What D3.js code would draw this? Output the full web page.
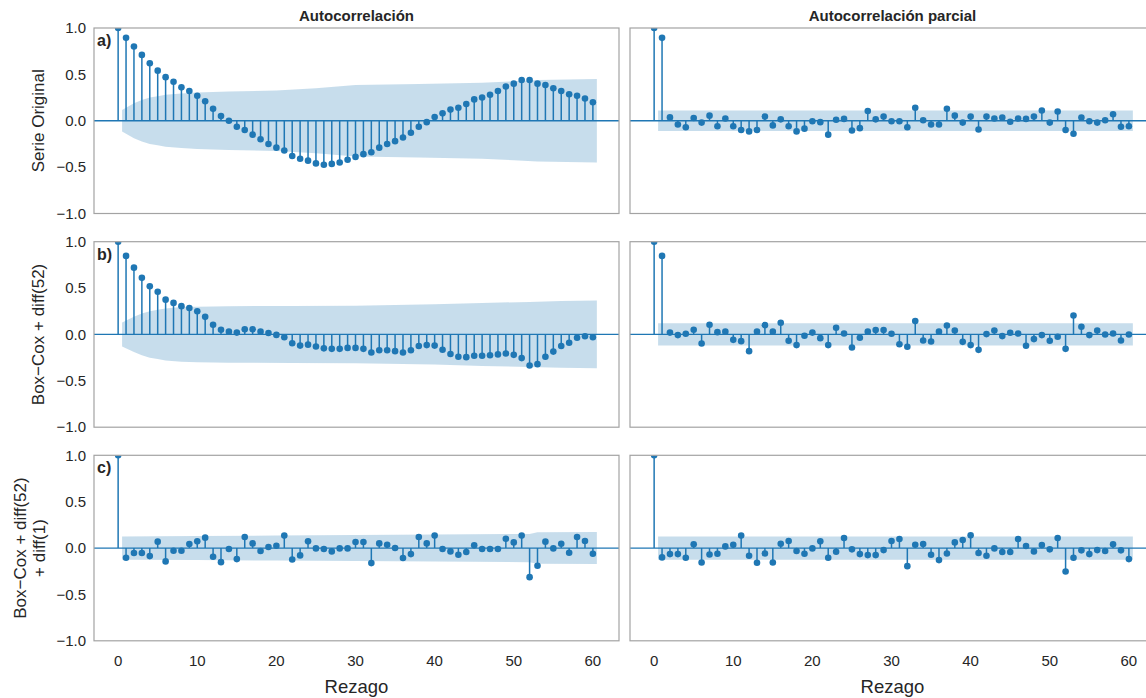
<!DOCTYPE html>
<html>
<head>
<meta charset="utf-8">
<script src="https://cdn.jsdelivr.net/npm/d3@7"></script>
<style>
  body { margin: 0; background: #ffffff; }
  text { font-family: "Liberation Sans", Arial, sans-serif; }
</style>
</head>
<body>
<div id="chart"></div>
<script>
// rezagos y etiquetas
const lags = d3.range(0, 61)
const xTicks = [0, 10, 20, 30, 40, 50, 60]
const yTicks = [-1, -0.5, 0, 0.5, 1]
const colTitles = ['Autocorrelación', 'Autocorrelación parcial']
const rowLabels = [['Serie Original'], ['Box−Cox + diff(52)'], ['Box−Cox + diff(52)', '+ diff(1)']]
const panelTags = ['a)', 'b)', 'c)']
const xLabel = 'Rezago'

// a) serie original
const acfOriginal = [1.0, 0.894, 0.80, 0.71, 0.62, 0.54, 0.47, 0.42, 0.36, 0.32, 0.27, 0.21, 0.13, 0.05, 0.0,
  -0.065, -0.10, -0.15, -0.20, -0.25, -0.29, -0.32, -0.38, -0.41, -0.43, -0.46, -0.475, -0.465, -0.45, -0.42, -0.39,
  -0.36, -0.34, -0.29, -0.25, -0.22, -0.18, -0.13, -0.065, -0.015, 0.04, 0.08, 0.12, 0.14, 0.18, 0.23,
  0.25, 0.28, 0.32, 0.37, 0.40, 0.44, 0.44, 0.40, 0.385, 0.35, 0.32, 0.285, 0.27, 0.24, 0.20]
const pacfOriginal = [1.0, 0.894, 0.036, -0.04, -0.07, 0.03, -0.02, 0.055, -0.06, 0.025,
  -0.06, -0.10, -0.115, -0.10, 0.045, -0.05, 0.015, -0.06, -0.115, -0.085,
  -0.005, -0.015, -0.15, 0.01, 0.02, -0.105, -0.08, 0.105, 0.015, 0.045,
  -0.005, -0.005, -0.07, 0.14, 0.005, -0.04, -0.04, 0.13, 0.055, -0.02,
  0.045, -0.095, 0.045, 0.025, 0.035, -0.01, 0.025, 0.02, 0.045, 0.11,
  -0.02, 0.10, -0.10, -0.14, 0.035, -0.005, -0.02, 0.005, 0.07, -0.065, -0.06]

// b) Box-Cox + diff(52)
const acfBoxCox = [1.0, 0.847, 0.72, 0.61, 0.52, 0.46, 0.375, 0.34, 0.305, 0.285,
  0.25, 0.19, 0.105, 0.05, 0.03, 0.02, 0.055, 0.055, 0.03, 0.015,
  -0.005, -0.03, -0.095, -0.12, -0.11, -0.13, -0.15, -0.155, -0.155, -0.145,
  -0.145, -0.155, -0.195, -0.17, -0.17, -0.18, -0.195, -0.17, -0.125, -0.115,
  -0.12, -0.165, -0.21, -0.24, -0.245, -0.23, -0.23, -0.225, -0.215, -0.205,
  -0.22, -0.255, -0.335, -0.32, -0.24, -0.185, -0.125, -0.09, -0.035, -0.02, -0.03]
const pacfBoxCox = [1.0, 0.847, 0.02, -0.007, 0.007, 0.05, -0.097, 0.105, 0.025, 0.03,
  -0.058, -0.072, -0.18, 0.03, 0.10, 0.03, 0.126, -0.068, -0.115, -0.014,
  0.02, -0.04, -0.115, 0.072, 0.01, -0.14, -0.036, 0.03, 0.047, 0.047,
  0.007, -0.105, -0.133, 0.144, -0.065, -0.076, 0.03, 0.097, 0.043, -0.08,
  -0.115, -0.166, 0.004, 0.043, -0.018, 0.018, 0.011, -0.122, -0.05, -0.007,
  -0.068, -0.025, -0.155, 0.205, 0.083, -0.007, 0.043, 0.0, 0.011, -0.065, 0.0]

// c) Box-Cox + diff(52) + diff(1)
const acfDiff = [1.0, -0.105, -0.054, -0.054, -0.087, 0.069, -0.144, -0.029, -0.029, 0.043,
  0.072, 0.112, -0.094, -0.152, -0.011, -0.119, 0.119, 0.05, -0.032, 0.011,
  0.025, 0.134, -0.123, -0.079, 0.072, -0.004, -0.011, -0.036, -0.004, -0.004,
  0.065, 0.065, -0.162, 0.05, 0.036, 0.0, -0.108, -0.065, 0.119, 0.05,
  0.134, -0.011, -0.036, -0.072, -0.043, 0.029, -0.011, -0.011, -0.011, 0.101,
  0.061, 0.134, -0.314, -0.191, 0.069, -0.004, 0.047, -0.05, 0.119, 0.076, -0.061]
const pacfDiff = [1.0, -0.101, -0.065, -0.065, -0.105, 0.04, -0.155, -0.069, -0.061, 0.018,
  0.036, 0.134, -0.083, -0.159, -0.058, -0.155, 0.047, 0.076, -0.032, -0.061,
  -0.004, 0.072, -0.105, -0.04, 0.108, -0.014, -0.065, -0.076, -0.076, -0.022,
  0.076, 0.097, -0.195, 0.036, 0.043, -0.072, -0.13, -0.058, 0.061, 0.087,
  0.137, -0.054, -0.083, -0.004, -0.043, -0.043, 0.097, 0.022, -0.036, 0.032,
  -0.014, 0.108, -0.253, -0.105, -0.025, -0.065, -0.022, -0.032, 0.04, -0.025, -0.119]

// bandas de confianza: [rezago, semiancho]
const bandAcfOriginal = [[0.5, 0.115], [2, 0.19], [3, 0.225], [4, 0.25], [5, 0.265], [6, 0.28], [8, 0.295],
  [10, 0.305], [14, 0.315], [20, 0.325], [25, 0.35], [30, 0.385], [38, 0.395], [46, 0.41], [50, 0.425],
  [53, 0.44], [60.5, 0.45]]
const bandAcfBoxCox = [[0.5, 0.13], [2, 0.19], [3, 0.225], [4, 0.25], [5, 0.265], [6, 0.28], [8, 0.295],
  [10, 0.30], [14, 0.305], [22, 0.307], [30, 0.31], [40, 0.325], [46, 0.34], [52, 0.35], [56, 0.36], [60.5, 0.365]]
const bandAcfDiff = [[0.5, 0.125], [10, 0.13], [20, 0.135], [30, 0.14], [40, 0.145], [52, 0.152],
  [53, 0.17], [60.5, 0.172]]
const bandPacfOriginal = [[0.5, 0.11], [60.5, 0.11]]
const bandPacfBoxCox = [[0.5, 0.12], [60.5, 0.12]]
const bandPacfDiff = [[0.5, 0.125], [60.5, 0.125]]

const panels = [
  { row: 0, col: 0, values: acfOriginal, band: bandAcfOriginal },
  { row: 0, col: 1, values: pacfOriginal, band: bandPacfOriginal },
  { row: 1, col: 0, values: acfBoxCox, band: bandAcfBoxCox },
  { row: 1, col: 1, values: pacfBoxCox, band: bandPacfBoxCox },
  { row: 2, col: 0, values: acfDiff, band: bandAcfDiff },
  { row: 2, col: 1, values: pacfDiff, band: bandPacfDiff }
]

const width = 1146
const height = 698
const color = '#1f77b4'
const panelW = 525
const panelH = 185.5
const colX = [94, 630]
const rowY = [28, 241.7, 455.3]

const x = d3.scaleLinear().domain([-3.05, 63.3]).range([0, panelW])
const y = d3.scaleLinear().domain([-1, 1]).range([panelH, 0])
const fmt = d3.format('.1f')

const svg = d3.select('#chart')
  .append('svg')
  .attr('width', width)
  .attr('height', height)
  .attr('viewBox', [0, 0, width, height])

const area = d3.area()
  .x(d => x(d[0]))
  .y0(d => y(-d[1]))
  .y1(d => y(d[1]))

panels.forEach((p, i) => {
  const g = svg.append('g')
    .attr('transform', `translate(${colX[p.col]},${rowY[p.row]})`)

  g.append('clipPath')
    .attr('id', 'clip' + i)
    .append('rect')
    .attr('width', panelW)
    .attr('height', panelH)

  const inner = g.append('g').attr('clip-path', `url(#clip${i})`)

  // banda de confianza
  inner.append('path')
    .datum(p.band)
    .attr('d', area)
    .attr('fill', color)
    .attr('fill-opacity', 0.25)

  // línea en cero
  inner.append('line')
    .attr('x1', 0)
    .attr('x2', panelW)
    .attr('y1', y(0))
    .attr('y2', y(0))
    .attr('stroke', color)
    .attr('stroke-width', 1.3)

  // tallos
  inner.selectAll('line.stem')
    .data(lags)
    .enter()
    .append('line')
    .attr('class', 'stem')
    .attr('x1', d => x(d))
    .attr('x2', d => x(d))
    .attr('y1', y(0))
    .attr('y2', d => y(p.values[d]))
    .attr('stroke', color)
    .attr('stroke-width', 1.5)

  inner.selectAll('circle')
    .data(lags)
    .enter()
    .append('circle')
    .attr('cx', d => x(d))
    .attr('cy', d => y(p.values[d]))
    .attr('r', 3.3)
    .attr('fill', color)

  // marco
  g.append('rect')
    .attr('width', panelW)
    .attr('height', panelH)
    .attr('fill', 'none')
    .attr('stroke', '#a3a3a3')
    .attr('stroke-width', 1.2)

  // eje y solo en la columna izquierda
  if (p.col === 0) {
    g.selectAll('text.ytick')
      .data(yTicks)
      .enter()
      .append('text')
      .attr('class', 'ytick')
      .attr('x', -8)
      .attr('y', d => y(d))
      .attr('dy', '0.35em')
      .attr('text-anchor', 'end')
      .attr('fill', '#262626')
      .style('font-size', '15px')
      .text(d => fmt(d))

    g.append('text')
      .attr('x', 3)
      .attr('y', 18)
      .attr('fill', '#262626')
      .style('font-size', '16px')
      .style('font-weight', 'bold')
      .text(panelTags[p.row])

    const lines = rowLabels[p.row]
    lines.forEach((t, k) => {
      const bx = lines.length === 1 ? -50 : -68 + k * 19
      g.append('text')
        .attr('transform', `translate(${bx},${panelH / 2}) rotate(-90)`)
        .attr('text-anchor', 'middle')
        .attr('fill', '#262626')
        .style('font-size', '17px')
        .text(t)
    })
  }

  // títulos de columna
  if (p.row === 0) {
    g.append('text')
      .attr('x', panelW / 2)
      .attr('y', -7)
      .attr('text-anchor', 'middle')
      .attr('fill', '#262626')
      .style('font-size', '15px')
      .style('font-weight', 'bold')
      .text(colTitles[p.col])
  }

  // eje x solo en la última fila
  if (p.row === 2) {
    g.selectAll('text.xtick')
      .data(xTicks)
      .enter()
      .append('text')
      .attr('class', 'xtick')
      .attr('x', d => x(d))
      .attr('y', panelH + 25)
      .attr('text-anchor', 'middle')
      .attr('fill', '#262626')
      .style('font-size', '15px')
      .text(d => d)

    g.append('text')
      .attr('x', panelW / 2)
      .attr('y', panelH + 52)
      .attr('text-anchor', 'middle')
      .attr('fill', '#262626')
      .style('font-size', '18.5px')
      .text(xLabel)
  }
})
</script>
</body>
</html>
